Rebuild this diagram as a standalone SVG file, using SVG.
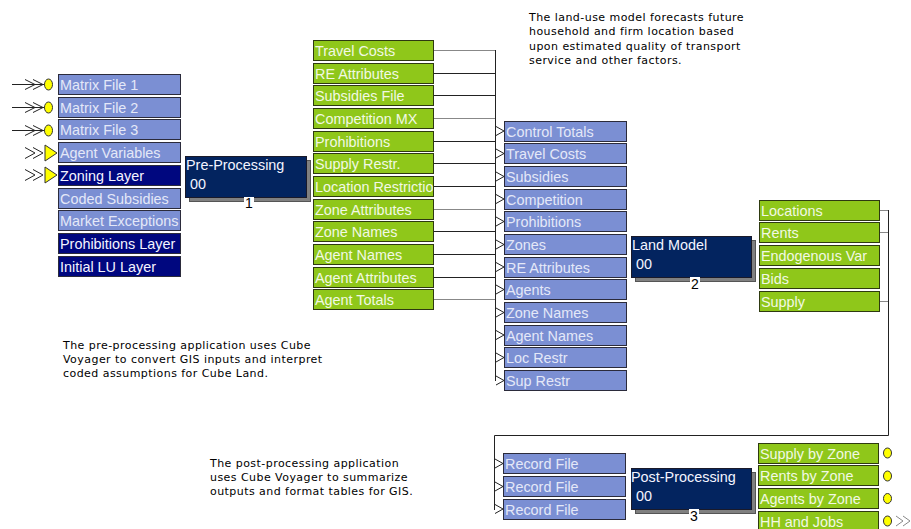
<svg xmlns="http://www.w3.org/2000/svg" width="911" height="529" viewBox="0 0 911 529">
<style>
.lb{fill:#7b8fd3;stroke:#2b2b3b;stroke-width:1}
.db{fill:#00077f;stroke:#2b2b3b;stroke-width:1}
.gb{fill:#8fc71a;stroke:#2e3a10;stroke-width:1}
.pb{fill:#03245f;stroke:#1a1a2a;stroke-width:1}
.sh{fill:#808080;stroke:#555;stroke-width:1}
.t{font-family:"Liberation Sans",Arial,sans-serif;font-size:14.4px}
.lt{fill:#e4e8f8}
.wt{fill:#f4f4ff}
.gt{fill:#f2f9e4}
.note{font-family:"DejaVu Sans",Verdana,sans-serif;font-size:11px;letter-spacing:0.45px;fill:#000}
.num{font-family:"Liberation Sans",Arial,sans-serif;font-size:14px;fill:#000}
.ln{fill:none;stroke:#222;stroke-width:1}
.lg{fill:none;stroke:#888;stroke-width:1}
.ar{fill:none;stroke:#222;stroke-width:1}
.yc{fill:#ffff00;stroke:#333;stroke-width:1}
</style>
<defs>
<clipPath id="cl"><rect x="313" y="176" width="120" height="20"/></clipPath>
</defs>

<!-- notes -->
<g id="note-top">
<text class="note" x="529" y="21">The land-use model forecasts future</text>
<text class="note" x="529" y="35">household and firm location based</text>
<text class="note" x="529" y="50">upon estimated quality of transport</text>
<text class="note" x="529" y="64">service and other factors.</text>
</g>
<g id="note-pre">
<text class="note" x="63" y="349">The pre-processing application uses Cube</text>
<text class="note" x="63" y="363">Voyager to convert GIS inputs and interpret</text>
<text class="note" x="63" y="377">coded assumptions for Cube Land.</text>
</g>
<g id="note-post">
<text class="note" x="210" y="467">The post-processing application</text>
<text class="note" x="210" y="481">uses Cube Voyager to summarize</text>
<text class="note" x="210" y="495">outputs and format tables for GIS.</text>
</g>

<!-- connectors -->
<g id="connectors">
<!-- left input markers -->
<path class="ln" d="M12,84.5H45M12,107.5H45M12,130.5H45"/>
<path class="ar" d="M25,79.5L35,84.5L25,89.5M33,79.5L43,84.5L33,89.5"/>
<path class="ar" d="M25,102.5L35,107.5L25,112.5M33,102.5L43,107.5L33,112.5"/>
<path class="ar" d="M25,125.5L35,130.5L25,135.5M33,125.5L43,130.5L33,135.5"/>
<ellipse class="yc" cx="48.5" cy="84.5" rx="4" ry="5.5"/>
<ellipse class="yc" cx="48.5" cy="107.5" rx="4" ry="5.5"/>
<ellipse class="yc" cx="48.5" cy="130.5" rx="4" ry="5.5"/>
<path class="ar" d="M25,147.5L35,153L25,158.5M33,147.5L43,153L33,158.5"/>
<path class="ar" d="M25,169.5L35,175L25,180.5M33,169.5L43,175L33,180.5"/>
<polygon class="yc" points="45,145 57,153 45,161"/>
<polygon class="yc" points="45,167 57,175 45,183"/>

<!-- green -> blue bus -->
<path class="lg" d="M433,50.5H495"/>
<path class="ln" d="M433,73.5H495"/>
<path class="ln" d="M433,95.5H495"/>
<path class="lg" d="M433,118.5H495"/>
<path class="ln" d="M433,141.5H495"/>
<path class="ln" d="M433,163.5H495"/>
<path class="ln" d="M433,186.5H495"/>
<path class="lg" d="M433,209.5H495"/>
<path class="ln" d="M433,231.5H495"/>
<path class="ln" d="M433,254.5H495"/>
<path class="ln" d="M433,277.5H495"/>
<path class="lg" d="M433,299.5H495"/>
<path class="ln" d="M495.5,50V381"/>
<path class="ar" d="M496,126.5L504,131L496,135.5"/>
<path class="ar" d="M496,149L504,153.5L496,158"/>
<path class="ar" d="M496,172L504,176.5L496,181"/>
<path class="ar" d="M496,194.5L504,199L496,203.5"/>
<path class="ar" d="M496,217L504,221.5L496,226"/>
<path class="ar" d="M496,240L504,244.5L496,249"/>
<path class="ar" d="M496,262.5L504,267L496,271.5"/>
<path class="ar" d="M496,285L504,289.5L496,294"/>
<path class="ar" d="M496,308L504,312.5L496,317"/>
<path class="ar" d="M496,330.5L504,335L496,339.5"/>
<path class="ar" d="M496,353L504,357.5L496,362"/>
<path class="ar" d="M496,376L504,380.5L496,385"/>

<!-- land model outputs -> record files -->
<path class="lg" d="M879,210.5H888"/>
<path class="lg" d="M879,232.5H888"/>
<path class="lg" d="M879,301.5H888"/>
<path class="ln" d="M888.5,210V435.5H494.5V510"/>
<path class="ar" d="M495,459L503,463.5L495,468"/>
<path class="ar" d="M495,482L503,486.5L495,491"/>
<path class="ar" d="M495,504.5L503,509L495,513.5"/>

<!-- output markers -->
<ellipse class="yc" cx="887.5" cy="453" rx="4" ry="5"/>
<ellipse class="yc" cx="887.5" cy="476" rx="4" ry="5"/>
<ellipse class="yc" cx="887.5" cy="498.5" rx="4" ry="5"/>
<ellipse class="yc" cx="887.5" cy="521" rx="4" ry="5"/>
<path class="lg" d="M896,516L903,521L896,526M903,516L910,521L903,526"/>
</g>

<!-- left inputs -->
<g id="in-matrix1"><rect class="lb" x="58.5" y="74.5" width="122" height="20"/><text class="t lt" x="60" y="90">Matrix File 1</text></g>
<g id="in-matrix2"><rect class="lb" x="58.5" y="97.5" width="122" height="20"/><text class="t lt" x="60" y="113">Matrix File 2</text></g>
<g id="in-matrix3"><rect class="lb" x="58.5" y="119.5" width="122" height="20"/><text class="t lt" x="60" y="135">Matrix File 3</text></g>
<g id="in-agentvars"><rect class="lb" x="58.5" y="142.5" width="122" height="20"/><text class="t lt" x="60" y="158">Agent Variables</text></g>
<g id="in-zoning"><rect class="db" x="58.5" y="165.5" width="122" height="20"/><text class="t wt" x="60" y="181">Zoning Layer</text></g>
<g id="in-coded"><rect class="lb" x="58.5" y="188.5" width="122" height="20"/><text class="t lt" x="60" y="204">Coded Subsidies</text></g>
<g id="in-market"><rect class="lb" x="58.5" y="210.5" width="122" height="20"/><text class="t lt" x="60" y="226">Market Exceptions</text></g>
<g id="in-prohib"><rect class="db" x="58.5" y="233.5" width="122" height="20"/><text class="t wt" x="60" y="249">Prohibitions Layer</text></g>
<g id="in-initlu"><rect class="db" x="58.5" y="256.5" width="122" height="20"/><text class="t wt" x="60" y="272">Initial LU Layer</text></g>

<!-- pre-processing -->
<g id="pre-processing">
<rect class="sh" x="189.5" y="160.5" width="121" height="41"/>
<rect class="pb" x="185.5" y="156.5" width="121" height="41"/>
<text class="t wt" x="186" y="170">Pre-Processing</text>
<text class="t wt" x="190" y="189">00</text>
<rect x="244" y="197" width="10" height="11" fill="#fff"/>
<text class="num" x="245" y="208">1</text>
</g>

<!-- pre outputs (green) -->
<g id="g-travel"><rect class="gb" x="313.5" y="40.5" width="120" height="20"/><text class="t gt" x="315" y="56">Travel Costs</text></g>
<g id="g-re"><rect class="gb" x="313.5" y="63.5" width="120" height="20"/><text class="t gt" x="315" y="79">RE Attributes</text></g>
<g id="g-subs"><rect class="gb" x="313.5" y="85.5" width="120" height="20"/><text class="t gt" x="315" y="101">Subsidies File</text></g>
<g id="g-comp"><rect class="gb" x="313.5" y="108.5" width="120" height="20"/><text class="t gt" x="315" y="124">Competition MX</text></g>
<g id="g-prohib"><rect class="gb" x="313.5" y="131.5" width="120" height="20"/><text class="t gt" x="315" y="147">Prohibitions</text></g>
<g id="g-supply"><rect class="gb" x="313.5" y="153.5" width="120" height="20"/><text class="t gt" x="315" y="169">Supply Restr.</text></g>
<g id="g-locrestr"><rect class="gb" x="313.5" y="176.5" width="120" height="20"/><text class="t gt" x="315" y="192" clip-path="url(#cl)">Location Restriction</text></g>
<g id="g-zoneattr"><rect class="gb" x="313.5" y="199.5" width="120" height="20"/><text class="t gt" x="315" y="215">Zone Attributes</text></g>
<g id="g-zonenames"><rect class="gb" x="313.5" y="221.5" width="120" height="20"/><text class="t gt" x="315" y="237">Zone Names</text></g>
<g id="g-agentnames"><rect class="gb" x="313.5" y="244.5" width="120" height="20"/><text class="t gt" x="315" y="260">Agent Names</text></g>
<g id="g-agentattr"><rect class="gb" x="313.5" y="267.5" width="120" height="20"/><text class="t gt" x="315" y="283">Agent Attributes</text></g>
<g id="g-agenttot"><rect class="gb" x="313.5" y="289.5" width="120" height="20"/><text class="t gt" x="315" y="305">Agent Totals</text></g>

<!-- land model inputs (blue) -->
<g id="b-control"><rect class="lb" x="504.5" y="121.5" width="122" height="20"/><text class="t lt" x="506" y="137">Control Totals</text></g>
<g id="b-travel"><rect class="lb" x="504.5" y="143.5" width="122" height="20"/><text class="t lt" x="506" y="159">Travel Costs</text></g>
<g id="b-subs"><rect class="lb" x="504.5" y="166.5" width="122" height="20"/><text class="t lt" x="506" y="182">Subsidies</text></g>
<g id="b-comp"><rect class="lb" x="504.5" y="189.5" width="122" height="20"/><text class="t lt" x="506" y="205">Competition</text></g>
<g id="b-prohib"><rect class="lb" x="504.5" y="211.5" width="122" height="20"/><text class="t lt" x="506" y="227">Prohibitions</text></g>
<g id="b-zones"><rect class="lb" x="504.5" y="234.5" width="122" height="20"/><text class="t lt" x="506" y="250">Zones</text></g>
<g id="b-re"><rect class="lb" x="504.5" y="257.5" width="122" height="20"/><text class="t lt" x="506" y="273">RE Attributes</text></g>
<g id="b-agents"><rect class="lb" x="504.5" y="279.5" width="122" height="20"/><text class="t lt" x="506" y="295">Agents</text></g>
<g id="b-zonenames"><rect class="lb" x="504.5" y="302.5" width="122" height="20"/><text class="t lt" x="506" y="318">Zone Names</text></g>
<g id="b-agentnames"><rect class="lb" x="504.5" y="325.5" width="122" height="20"/><text class="t lt" x="506" y="341">Agent Names</text></g>
<g id="b-locrestr"><rect class="lb" x="504.5" y="347.5" width="122" height="20"/><text class="t lt" x="506" y="363">Loc Restr</text></g>
<g id="b-suprestr"><rect class="lb" x="504.5" y="370.5" width="122" height="20"/><text class="t lt" x="506" y="386">Sup Restr</text></g>

<!-- land model -->
<g id="land-model">
<rect class="sh" x="635.5" y="240.5" width="120" height="41"/>
<rect class="pb" x="631.5" y="236.5" width="120" height="41"/>
<text class="t wt" x="632" y="250">Land Model</text>
<text class="t wt" x="636" y="269">00</text>
<rect x="690" y="277" width="10" height="12" fill="#fff"/>
<text class="num" x="691" y="289">2</text>
</g>

<!-- land model outputs -->
<g id="o-locations"><rect class="gb" x="759.5" y="200.5" width="120" height="20"/><text class="t gt" x="761" y="216">Locations</text></g>
<g id="o-rents"><rect class="gb" x="759.5" y="222.5" width="120" height="20"/><text class="t gt" x="761" y="238">Rents</text></g>
<g id="o-endog"><rect class="gb" x="759.5" y="245.5" width="120" height="20"/><text class="t gt" x="761" y="261">Endogenous Var</text></g>
<g id="o-bids"><rect class="gb" x="759.5" y="268.5" width="120" height="20"/><text class="t gt" x="761" y="284">Bids</text></g>
<g id="o-supply"><rect class="gb" x="759.5" y="291.5" width="120" height="20"/><text class="t gt" x="761" y="307">Supply</text></g>

<!-- record files -->
<g id="r-1"><rect class="lb" x="503.5" y="453.5" width="122" height="20"/><text class="t lt" x="505" y="469">Record File</text></g>
<g id="r-2"><rect class="lb" x="503.5" y="476.5" width="122" height="20"/><text class="t lt" x="505" y="492">Record File</text></g>
<g id="r-3"><rect class="lb" x="503.5" y="499.5" width="122" height="20"/><text class="t lt" x="505" y="515">Record File</text></g>

<!-- post-processing -->
<g id="post-processing">
<rect class="sh" x="635.5" y="472.5" width="120" height="41"/>
<rect class="pb" x="631.5" y="468.5" width="120" height="41"/>
<text class="t wt" x="631" y="482">Post-Processing</text>
<text class="t wt" x="636" y="501">00</text>
<rect x="689" y="509" width="10" height="12" fill="#fff"/>
<text class="num" x="690" y="521">3</text>
</g>

<!-- final outputs -->
<g id="f-supply"><rect class="gb" x="758.5" y="443.5" width="120" height="20"/><text class="t gt" x="760" y="459">Supply by Zone</text></g>
<g id="f-rents"><rect class="gb" x="758.5" y="465.5" width="120" height="20"/><text class="t gt" x="760" y="481">Rents by Zone</text></g>
<g id="f-agents"><rect class="gb" x="758.5" y="488.5" width="120" height="20"/><text class="t gt" x="760" y="504">Agents by Zone</text></g>
<g id="f-hhjobs"><rect class="gb" x="758.5" y="511.5" width="120" height="20"/><text class="t gt" x="760" y="527">HH and Jobs</text></g>
</svg>
